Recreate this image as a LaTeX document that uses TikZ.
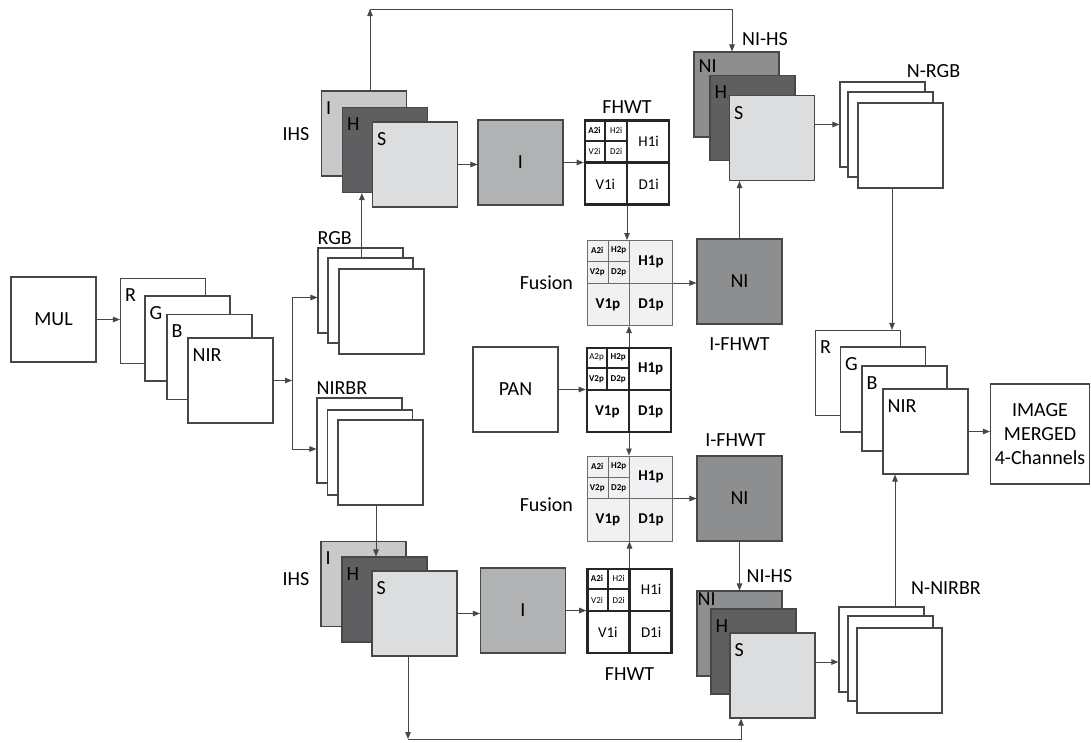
\documentclass[tikz,border=0pt]{standalone}
\usepackage{fontspec}
\setmainfont{Carlito}
\usetikzlibrary{arrows.meta,positioning,calc}
\definecolor{fwline}{HTML}{474747}
\definecolor{fwI}{HTML}{C8C9CB}
\definecolor{fwH}{HTML}{5F5F61}
\definecolor{fwS}{HTML}{DCDDDF}
\definecolor{fwint}{HTML}{B1B2B4}
\definecolor{fwni}{HTML}{8D8E90}
\definecolor{fwfuse}{HTML}{F1F1F3}

% wavelet grid: name, centre, style, A2, H2, V2, D2, level-1 font, suffix
\newcommand{\wavegrid}[9]{%
  \node[#3] (#1) at (#2) {};
  \draw[#3 line] (#1.north) -- (#1.south) (#1.west) -- (#1.east)
    ($(#1.north west)!0.5!(#1.north)$) -- ($(#1.west)!0.5!(#1.center)$)
    ($(#1.north west)!0.5!(#1.west)$) -- ($(#1.north)!0.5!(#1.center)$);
  \node[sm] (#1a2) at ($(#1.north west)!0.25!(#1.center)$) {#4};
  \node[sm] (#1h2) at ($(#1.north)!0.25!(#1.west)$) {#5};
  \node[sm] (#1v2) at ($(#1.west)!0.25!(#1.north)$) {#6};
  \node[sm] (#1d2) at ($(#1.north west)!0.75!(#1.center)$) {#7};
  \node[lg] (#1h1) at ($(#1.north east)!0.5!(#1.center)$) {#8H1#9};
  \node[lg] (#1v1) at ($(#1.south west)!0.5!(#1.center)$) {#8V1#9};
  \node[lg] (#1d1) at ($(#1.south east)!0.5!(#1.center)$) {#8D1#9};
}

\begin{document}
\begin{tikzpicture}[x=1pt, y=-1pt,
  every node/.append style={font=\fontsize{20}{24}\selectfont},
  frame/.style={draw=fwline, line width=1.1pt, fill=white, minimum size=85pt, inner sep=0pt},
  tag/.style={anchor=north west, inner sep=0pt, xshift=5pt, yshift=-11pt},
  chI/.style={frame, fill=fwI},
  chH/.style={frame, fill=fwH},
  chS/.style={frame, fill=fwS},
  heavy/.style={draw=black!85, line width=2.6pt, fill=white, minimum size=84pt, inner sep=0pt},
  heavy line/.style={draw=black!85, line width=2.2pt},
  light/.style={draw=fwline!80, line width=1pt, fill=fwfuse, minimum size=85pt, inner sep=0pt},
  light line/.style={draw=fwline!80, line width=1pt},
  sm/.style={font=\fontsize{9}{10}\selectfont, inner sep=0pt},
  lg/.style={font=\fontsize{15}{16}\selectfont, inner sep=0pt},
  arr/.style={draw=fwline, line width=0.9pt, -{Triangle[length=7pt,width=5.5pt]}}]
  \useasboundingbox (0,0) rectangle (1091,742);

  % input side
  \node[frame] (mul) at (53.5,319.5) {MUL};
  \node[frame] (rL) at (163,321) {};
  \node[tag] (rLt) at (rL.north west) {R};
  \node[frame] (gL) at (187.5,338.5) {};
  \node[tag] (gLt) at (gL.north west) {G};
  \node[frame] (bL) at (209.5,357) {};
  \node[tag] (bLt) at (bL.north west) {B};
  \node[frame] (nirL) at (230.5,380.5) {};
  \node[tag] (nirLt) at (nirL.north west) {NIR};

  \node[frame] (rgbA) at (360.5,290.5) {};
  \node[frame] (rgbB) at (370.5,300.5) {};
  \node[frame] (rgbC) at (381.5,311.5) {};
  \node[anchor=south west, inner sep=0pt] (rgbTxt) at ([yshift=3pt]rgbA.north west) {RGB};

  \node[frame] (nA) at (359.5,440.5) {};
  \node[frame] (nB) at (370,452.5) {};
  \node[frame] (nC) at (380.5,462.5) {};
  \node[anchor=south west, inner sep=0pt] (nirbrTxt) at ([yshift=3pt]nA.north west) {NIRBR};

  % upper branch
  \node[chI] (ihsI) at (364,133.5) {};
  \node[tag] (ihsIt) at (ihsI.north west) {I};
  \node[chH] (ihsH) at (385,150) {};
  \node[tag] (ihsHt) at (ihsH.north west) {H};
  \node[chS] (ihsS) at (415,164.5) {};
  \node[tag] (ihsSt) at (ihsS.north west) {S};
  \node (ihsTxt) at (296,134) {IHS};
  \node[frame, fill=fwint] (iA) at (520.5,162.5) {I};
  \wavegrid{fA}{627,162.5}{heavy}{\textbf{A2i}}{H2i}{V2i}{D2i}{}{i}
  \node[anchor=south, inner sep=0pt] (fAtxt) at ([yshift=6pt]fA.north) {FHWT};

  \wavegrid{uA}{629.5,283}{light}{\textbf{A2i}}{\textbf{H2p}}{\textbf{V2p}}{\textbf{D2p}}{\bfseries}{p}
  \node[left=10pt of uA] (uTxt) {Fusion};
  \node[frame, fill=fwni] (niA) at (739.5,281.5) {NI};
  \node[anchor=north, inner sep=0pt] (niAtxt) at ([yshift=-13pt]niA.south) {I-FHWT};

  % pan
  \node[frame] (pan) at (515.5,389.5) {PAN};
  \wavegrid{pG}{629,390}{heavy}{A2p}{\textbf{H2p}}{\textbf{V2p}}{\textbf{D2p}}{\bfseries}{p}

  % lower branch
  \wavegrid{lA}{629.5,498.5}{light}{\textbf{A2i}}{\textbf{H2p}}{\textbf{V2p}}{\textbf{D2p}}{\bfseries}{p}
  \node[left=10pt of lA, yshift=-6pt] (lTxt) {Fusion};
  \node[frame, fill=fwni] (niB) at (739.5,498.5) {NI};
  \node[anchor=south, inner sep=0pt] (niBtxt) at ([xshift=-4pt, yshift=9pt]niB.north) {I-FHWT};

  \node[chI] (ihsI2) at (363.5,584) {};
  \node[tag] (ihsI2t) at (ihsI2.north west) {I};
  \node[chH] (ihsH2) at (384.5,599.5) {};
  \node[tag] (ihsH2t) at (ihsH2.north west) {H};
  \node[chS] (ihsS2) at (414.5,613.5) {};
  \node[tag] (ihsS2t) at (ihsS2.north west) {S};
  \node (ihsTxt2) at (296,579) {IHS};
  \node[frame, fill=fwint] (iB) at (523,610.5) {I};
  \wavegrid{fB}{629.5,611}{heavy}{\textbf{A2i}}{H2i}{V2i}{D2i}{}{i}
  \node[anchor=north, inner sep=0pt] (fBtxt) at ([yshift=-13pt]fB.south) {FHWT};

  % new IHS stacks
  \node[frame, fill=fwni] (nhN) at (736.5,94.5) {};
  \node[tag, yshift=3pt] (nhNt) at (nhN.north west) {NI};
  \node[chH] (nhH) at (752.5,118) {};
  \node[tag] (nhHt) at (nhH.north west) {H};
  \node[chS] (nhS) at (772,138) {};
  \node[tag] (nhSt) at (nhS.north west) {S};
  \node (nhTxt) at (765,39) {NI-HS};

  \node[frame, fill=fwni] (nhN2) at (739.5,633.5) {};
  \node[tag, xshift=-4pt, yshift=9pt] (nhN2t) at (nhN2.north west) {NI};
  \node[chH] (nhH2) at (753.5,651.5) {};
  \node[tag] (nhH2t) at (nhH2.north west) {H};
  \node[chS] (nhS2) at (772.5,675.5) {};
  \node[tag] (nhS2t) at (nhS2.north west) {S};
  \node (nhTxt2) at (769.5,576) {NI-HS};

  \node[frame] (ngA) at (882.5,124.5) {};
  \node[frame] (ngB) at (890.5,134.5) {};
  \node[frame] (ngC) at (900.5,145.5) {};
  \node (ngTxt) at (933.5,71.5) {N-RGB};

  \node[frame] (nnA) at (881.5,649.5) {};
  \node[frame] (nnB) at (890.5,658.5) {};
  \node[frame] (nnC) at (899.5,670.5) {};
  \node (nnTxt) at (946,588) {N-NIRBR};

  % output side
  \node[frame] (rR) at (858,373) {};
  \node[tag] (rRt) at (rR.north west) {R};
  \node[frame] (rG) at (883,389.5) {};
  \node[tag] (rGt) at (rG.north west) {G};
  \node[frame] (rB) at (904.5,408.5) {};
  \node[tag] (rBt) at (rB.north west) {B};
  \node[frame] (rN) at (925.5,431.5) {};
  \node[tag] (rNt) at (rN.north west) {NIR};
  \node[frame, minimum width=99pt, minimum height=100pt, align=center] (img) at (1040,434) {IMAGE\\MERGED\\4-Channels};

  % connectors
  \coordinate (split) at (292,383);
  \coordinate (rgbUp) at ($(rgbB.north west)!0.4!(rgbB.north east)$);
  \coordinate (nbDown) at ([xshift=-4.5pt]nC.south);
  \coordinate (ngDown) at ([xshift=-8.5pt]ngC.south);
  \coordinate (nnUp) at ([xshift=13.5pt]nnA.north);
  \coordinate (nnIn) at ([yshift=-12.5pt]nnA.west);
  \coordinate (loopTL) at (370,9);
  \coordinate (loopTR) at (732,9);
  \coordinate (loopBL) at (408,739);
  \coordinate (loopBR) at (741,739);

  \draw[arr] (mul.east) -- (mul.east -| rL.west);
  \draw[arr] (nirL.east) -- (nirL.east -| split);
  \draw[arr] (split) |- ([yshift=-7pt]rgbA.west);
  \draw[arr] (split) |- ([yshift=-8.5pt]nA.west);
  \draw[arr] (rgbUp) -- (rgbUp |- ihsH.south);
  \draw[arr] (nbDown) -- (nbDown |- ihsH2.north);

  \draw[arr] (ihsS.east) -- (ihsS.east -| iA.west);
  \draw[arr] (iA.east) -- (iA.east -| fA.west);
  \draw[arr] (fA.south) -- (fA.south |- uA.north);
  \draw[arr] (pan.east) -- (pan.east -| pG.west);
  \draw[arr] (pG.north) -- (pG.north |- uA.south);
  \draw[arr] (pG.south) -- (pG.south |- lA.north);
  \draw[arr] (ihsS2.east) -- (ihsS2.east -| iB.west);
  \draw[arr] (iB.east) -- (iB.east -| fB.west);
  \draw[arr] (fB.north) -- (fB.north |- lA.south);
  \draw[arr] (uA.east) -- (uA.east -| niA.west);
  \draw[arr] (lA.east) -- (lA.east -| niB.west);
  \draw[arr] (niA.north) -- (niA.north |- nhS.south);
  \draw[arr] (niB.south) -- (niB.south |- nhN2.north);

  \draw[arr] (nhS.east |- ngA.west) -- (ngA.west);
  \draw[arr] (nhS2.east |- nnIn) -- (nnIn);
  \draw[arr] (ngDown) -- (ngDown |- rR.north);
  \draw[arr] (nnUp) -- (nnUp |- rN.south);
  \draw[arr] (rN.east) -- (rN.east -| img.west);

  \draw[arr] (loopTL |- ihsI.north) -- (loopTL);
  \draw[arr] (loopTL) -- (loopTR) -- (loopTR |- nhN.north);
  \draw[arr] (loopBL |- ihsS2.south) -- (loopBL);
  \draw[arr] (loopBL) -- (loopBR) -- (loopBR |- nhS2.south);
\end{tikzpicture}
\end{document}
